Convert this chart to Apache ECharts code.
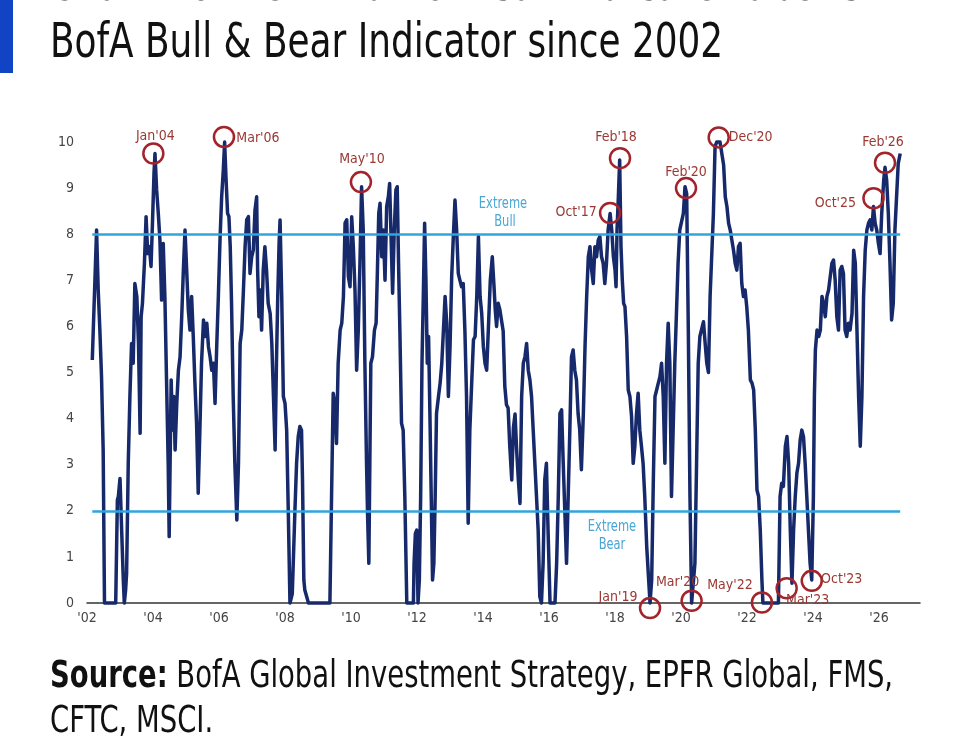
<!DOCTYPE html>
<html>
<head>
<meta charset="utf-8">
<script src="https://cdn.jsdelivr.net/npm/echarts@6/dist/echarts.min.js"></script>
<style>
  html, body { margin: 0; padding: 0; background: #fff; }
  #chart { width: 960px; height: 750px; }
</style>
</head>
<body>
<div id="chart"></div>
<script>
// BofA Bull & Bear Indicator (decimal years)
const weeks = [
  2002.16, 2002.24, 2002.29, 2002.34, 2002.39, 2002.44, 2002.49, 2002.53, 2002.87, 2002.92,
  2002.95, 2003.0, 2003.05, 2003.1, 2003.13, 2003.17, 2003.2, 2003.25, 2003.3, 2003.35,
  2003.4, 2003.45, 2003.51, 2003.56, 2003.61, 2003.64, 2003.68, 2003.74, 2003.79, 2003.84,
  2003.89, 2003.94, 2003.99, 2004.03, 2004.06, 2004.11, 2004.16, 2004.21, 2004.26, 2004.31,
  2004.36, 2004.41, 2004.46, 2004.49, 2004.55, 2004.59, 2004.63, 2004.67, 2004.72, 2004.77,
  2004.82, 2004.87, 2004.92, 2004.97, 2005.02, 2005.07, 2005.12, 2005.17, 2005.22, 2005.27,
  2005.32, 2005.37, 2005.42, 2005.47, 2005.53, 2005.58, 2005.63, 2005.68, 2005.73, 2005.78,
  2005.83, 2005.88, 2005.93, 2005.98, 2006.03, 2006.08, 2006.13, 2006.17, 2006.21, 2006.26,
  2006.3, 2006.34, 2006.38, 2006.43, 2006.48, 2006.54, 2006.59, 2006.64, 2006.69, 2006.74,
  2006.79, 2006.84, 2006.89, 2006.94, 2006.99, 2007.04, 2007.09, 2007.14, 2007.17, 2007.21,
  2007.25, 2007.29, 2007.34, 2007.39, 2007.44, 2007.49, 2007.55, 2007.6, 2007.65, 2007.7,
  2007.74, 2007.78, 2007.82, 2007.85, 2007.9, 2007.95, 2008.0, 2008.05, 2008.1, 2008.15,
  2008.22, 2008.3, 2008.35, 2008.4, 2008.45, 2008.5, 2008.53, 2008.57, 2008.6, 2008.66,
  2008.71, 2009.36, 2009.41, 2009.46, 2009.51, 2009.56, 2009.61, 2009.67, 2009.72, 2009.77,
  2009.82, 2009.87, 2009.92, 2009.97, 2010.02, 2010.07, 2010.12, 2010.17, 2010.22, 2010.27,
  2010.32, 2010.37, 2010.42, 2010.47, 2010.5, 2010.54, 2010.57, 2010.6, 2010.65, 2010.71,
  2010.76, 2010.8, 2010.84, 2010.88, 2010.93, 2010.98, 2011.03, 2011.08, 2011.13, 2011.17,
  2011.21, 2011.26, 2011.31, 2011.36, 2011.4, 2011.44, 2011.48, 2011.53, 2011.58, 2011.63,
  2011.69, 2011.89, 2011.91, 2011.95, 2011.99, 2012.03, 2012.07, 2012.11, 2012.15, 2012.19,
  2012.23, 2012.27, 2012.31, 2012.35, 2012.39, 2012.43, 2012.47, 2012.51, 2012.55, 2012.59,
  2012.65, 2012.7, 2012.75, 2012.8, 2012.85, 2012.9, 2012.95, 2013.0, 2013.05, 2013.1,
  2013.15, 2013.2, 2013.25, 2013.3, 2013.35, 2013.4, 2013.45, 2013.5, 2013.55, 2013.6,
  2013.66, 2013.71, 2013.76, 2013.81, 2013.86, 2013.91, 2013.96, 2014.01, 2014.06, 2014.11,
  2014.16, 2014.22, 2014.28, 2014.33, 2014.37, 2014.41, 2014.46, 2014.51, 2014.61, 2014.66,
  2014.71, 2014.76, 2014.81, 2014.87, 2014.92, 2014.97, 2015.02, 2015.07, 2015.12, 2015.17,
  2015.22, 2015.27, 2015.32, 2015.37, 2015.42, 2015.47, 2015.52, 2015.57, 2015.62, 2015.67,
  2015.72, 2015.77, 2015.82, 2015.87, 2015.92, 2015.97, 2016.03, 2016.18, 2016.23, 2016.28,
  2016.33, 2016.38, 2016.43, 2016.48, 2016.53, 2016.58, 2016.63, 2016.68, 2016.73, 2016.78,
  2016.83, 2016.88, 2016.93, 2016.98, 2017.04, 2017.09, 2017.14, 2017.19, 2017.24, 2017.29,
  2017.34, 2017.39, 2017.44, 2017.49, 2017.54, 2017.59, 2017.64, 2017.69, 2017.74, 2017.79,
  2017.85, 2017.9, 2017.95, 2018.0, 2018.03, 2018.06, 2018.1, 2018.14, 2018.18, 2018.22,
  2018.26, 2018.3, 2018.35, 2018.4, 2018.45, 2018.5, 2018.55, 2018.6, 2018.65, 2018.7,
  2018.75, 2018.8, 2018.85, 2018.9, 2018.96, 2019.01, 2019.06, 2019.11, 2019.16, 2019.21,
  2019.26, 2019.31, 2019.36, 2019.41, 2019.46, 2019.51, 2019.56, 2019.61, 2019.66, 2019.71,
  2019.76, 2019.81, 2019.86, 2019.91, 2019.96, 2020.01, 2020.07, 2020.12, 2020.17, 2020.22,
  2020.27, 2020.32, 2020.37, 2020.42, 2020.47, 2020.52, 2020.57, 2020.63, 2020.68, 2020.73,
  2020.78, 2020.83, 2020.88, 2020.98, 2021.03, 2021.08, 2021.18, 2021.24, 2021.29, 2021.34,
  2021.39, 2021.44, 2021.49, 2021.54, 2021.59, 2021.64, 2021.69, 2021.74, 2021.79, 2021.84,
  2021.89, 2021.94, 2021.99, 2022.04, 2022.1, 2022.15, 2022.2, 2022.25, 2022.3, 2022.35,
  2022.4, 2022.45, 2022.48, 2022.95, 2023.0, 2023.05, 2023.1, 2023.16, 2023.21, 2023.26,
  2023.31, 2023.36, 2023.41, 2023.46, 2023.51, 2023.56, 2023.61, 2023.66, 2023.71, 2023.76,
  2023.81, 2023.86, 2023.91, 2023.96, 2024.01, 2024.04, 2024.07, 2024.12, 2024.17, 2024.22,
  2024.27, 2024.32, 2024.37, 2024.42, 2024.47, 2024.52, 2024.57, 2024.62, 2024.67, 2024.72,
  2024.77, 2024.82, 2024.87, 2024.92, 2024.97, 2025.02, 2025.07, 2025.12, 2025.18, 2025.23,
  2025.28, 2025.33, 2025.38, 2025.43, 2025.48, 2025.53, 2025.58, 2025.63, 2025.68, 2025.73,
  2025.78, 2025.83, 2025.88, 2025.93, 2025.98, 2026.03, 2026.08, 2026.14, 2026.18, 2026.23,
  2026.28, 2026.33, 2026.38, 2026.43, 2026.48, 2026.53, 2026.58, 2026.64
];
const indicator = [
  5.27, 7.0, 8.09, 6.79, 5.92, 4.91, 3.32, 0, 0, 2.23,
  2.31, 2.7, 1.58, 0.5, 0, 0.28, 0.64, 3.03, 4.48, 5.63,
  5.2, 6.93, 6.65, 5.63, 3.68, 6.21, 6.5, 7.37, 8.38, 7.58,
  7.73, 7.3, 8.38, 9.32, 9.75, 8.96, 8.45, 7.87, 6.57, 7.8,
  6.65, 4.84, 3.03, 1.44, 4.84, 3.75, 4.48, 3.32, 4.33, 5.05,
  5.34, 6.21, 7.22, 8.09, 7.22, 6.36, 5.92, 6.65, 5.78, 4.77,
  3.9, 2.38, 3.75, 5.2, 6.14, 5.78, 6.07, 5.56, 5.34, 5.05,
  5.2, 4.33, 5.56, 6.65, 7.87, 8.81, 9.39, 10, 9.25, 8.45,
  8.38, 7.73, 6.5, 4.48, 3.03, 1.8, 3.03, 5.63, 5.92, 6.79,
  7.73, 8.31, 8.38, 7.15, 7.51, 7.66, 8.52, 8.81, 7.22, 6.21,
  6.79, 5.92, 7.22, 7.73, 7.22, 6.5, 6.28, 5.63, 4.48, 3.32,
  5.2, 6.65, 7.8, 8.31, 6.65, 4.48, 4.33, 3.75, 1.95, 0,
  0.2, 2.0, 3.03, 3.61, 3.83, 3.75, 2.67, 0.5, 0.28, 0.28,
  0, 0, 2.31, 4.55, 4.33, 3.46, 5.2, 5.92, 6.07, 6.65,
  8.24, 8.31, 7.08, 6.86, 8.38, 7.73, 6.79, 5.05, 5.92, 7.37,
  9.03, 8.09, 5.2, 3.03, 1.95, 0.86, 3.03, 5.2, 5.34, 5.92,
  6.07, 7.22, 8.45, 8.67, 7.51, 8.09, 7.0, 8.6, 8.81, 9.1,
  8.02, 6.72, 8.09, 8.96, 9.03, 7.37, 5.92, 3.9, 3.75, 2.31,
  0, 0, 0.86, 1.51, 1.58, 0, 0.5, 2.31, 5.2, 6.65,
  8.24, 7.0, 5.2, 5.78, 4.11, 2.31, 0.5, 0.86, 2.31, 4.11,
  4.48, 4.77, 5.2, 5.92, 6.65, 6.07, 4.48, 5.56, 7.08, 7.95,
  8.74, 8.09, 7.15, 7.0, 6.86, 6.93, 5.92, 4.48, 1.73, 3.75,
  4.84, 5.71, 5.78, 6.65, 7.95, 6.65, 6.28, 5.56, 5.2, 5.05,
  5.92, 7.0, 7.51, 6.9, 6.36, 6.0, 6.5, 6.36, 5.9, 4.7,
  4.3, 4.23, 3.4, 2.67, 3.8, 4.1, 3.3, 2.67, 2.16, 4.48,
  5.2, 5.34, 5.63, 5.05, 4.84, 4.48, 3.75, 3.03, 2.31, 1.58,
  0.14, 0, 0.86, 2.67, 3.03, 1.58, 0, 0, 0.86, 2.31,
  4.11, 4.19, 3.03, 1.95, 0.86, 2.31, 3.75, 5.34, 5.49, 5.05,
  4.84, 4.11, 3.75, 2.89, 4.11, 5.56, 6.65, 7.51, 7.73, 7.22,
  6.93, 7.73, 7.51, 7.87, 7.95, 7.51, 7.37, 6.93, 7.37, 8.09,
  8.45, 8.09, 7.51, 7.22, 6.86, 8.09, 8.81, 9.61, 7.73, 7.0,
  6.5, 6.43, 5.78, 4.62, 4.48, 4.05, 3.03, 3.4, 4.11, 4.55,
  3.75, 3.4, 3.03, 2.31, 1.22, 0.6, 0, 0.5, 2.67, 4.48,
  4.62, 4.77, 4.91, 5.2, 4.48, 3.03, 5.2, 6.07, 5.2, 2.31,
  3.75, 5.2, 6.28, 7.37, 8.09, 8.09, 8.45, 9.03, 8.88, 5.92,
  2.31, 0, 0, 0.86, 3.03, 5.2, 5.78, 5.8, 6.1, 5.63,
  5.2, 5.0, 6.65, 8.45, 9.9, 10, 10, 10, 9.5, 8.81,
  8.6, 8.24, 8.09, 7.87, 7.65, 7.37, 7.22, 7.73, 7.8, 6.93,
  6.65, 6.79, 6.43, 5.92, 4.84, 4.77, 4.62, 3.75, 2.45, 2.31,
  1.58, 0.5, 0, 0, 2.31, 2.6, 2.53, 3.4, 3.61, 3.03,
  1.58, 0.43, 1.58, 2.31, 2.82, 3.03, 3.54, 3.75, 3.61, 3.03,
  2.31, 1.58, 0.86, 0.5, 2.31, 4.48, 5.49, 5.92, 5.78, 5.92,
  6.65, 6.5, 6.21, 6.65, 6.79, 7.08, 7.37, 7.44, 7.0, 6.21,
  5.92, 7.22, 7.3, 7.15, 5.92, 5.78, 6.07, 5.92, 6.28, 7.65,
  7.37, 5.92, 4.48, 3.4, 4.48, 6.65, 7.65, 8.09, 8.24, 8.31,
  8.09, 8.6, 8.24, 8.09, 7.8, 7.58, 8.45, 9.17, 9.45, 9.17,
  8.45, 7.37, 6.14, 6.5, 8.09, 8.81, 9.53, 9.75
];

// circled turning points
const markNames = ["Jan'04", "Mar'06", "May'10", "Oct'17", "Feb'18", "Feb'20", "Dec'20",
  "Oct'25", "Feb'26", "Jan'19", "Mar'20", "May'22", "Mar'23", "Oct'23"];
const markYears = [2004.01, 2006.15, 2010.3, 2017.85, 2018.15, 2020.15, 2021.14,
  2025.83, 2026.18, 2019.06, 2020.32, 2022.45, 2023.2, 2023.96];
const markValues = [9.75, 10.11, 9.13, 8.46, 9.65, 9.0, 10.1,
  8.78, 9.55, -0.11, 0.05, 0.01, 0.32, 0.48];
// label offsets from circle centre (px)
const markOffsets = [[2, -17], [34, 1], [1, -23], [-34, -1], [-4, -21], [0, -16], [32, 0],
  [-38, 5], [-2, -20], [-32, -11], [-14, -18], [-32, -17], [21, 12], [30, -2]];

const bullLevel = 8;
const bearLevel = 2;

const narrow = "'Liberation Sans Narrow', 'DejaVu Sans Condensed', sans-serif";
const navy = '#16296b';
const cyan = '#2ea6dd';

let chart = echarts.init(document.getElementById('chart'));

let lineData = weeks.map((w, i) => [w, indicator[i]]);
let firstWeek = weeks[0];
let lastWeek = weeks[weeks.length - 1];

let markData = markNames.map((name, i) => ({
  name: name,
  value: [markYears[i], markValues[i]],
  label: { offset: markOffsets[i] }
}));

function squeezedText(x, y, text, size, extra) {
  return {
    type: 'text', x: x, y: y, scaleX: 0.83,
    style: Object.assign({ text: text, fontSize: size, fontFamily: narrow, fill: '#111', verticalAlign: 'middle' }, extra || {})
  };
}

var option = {
  backgroundColor: '#fff',
  animation: false,
  grid: { left: 87, right: 40, top: 142, bottom: 147 },
  xAxis: {
    type: 'value',
    min: 2002,
    max: 2027.24,
    interval: 2,
    splitLine: { show: false },
    axisTick: { show: false },
    axisLine: { lineStyle: { color: '#333', width: 1.5 } },
    axisLabel: {
      showMaxLabel: false,
      margin: 8,
      fontSize: 14,
      fontFamily: narrow,
      color: '#444',
      formatter: v => "'" + String(v).slice(2)
    }
  },
  yAxis: {
    type: 'value',
    min: 0,
    max: 10,
    interval: 1,
    splitLine: { show: false },
    axisLine: { show: false },
    axisTick: { show: false },
    axisLabel: { margin: 13, fontSize: 14, fontFamily: narrow, color: '#444' }
  },
  graphic: [
    { type: 'rect', shape: { x: 0, y: 0, width: 13, height: 73 }, style: { fill: '#1144c4' } },
    Object.assign(squeezedText(50, -12, 'Chart 20: BofA Bull & Bear Indicator above', 48, { fontWeight: 'bold' }), { scaleX: 0.78 }),
    squeezedText(50, 45, 'BofA Bull & Bear Indicator since 2002', 48),
    {
      type: 'text', x: 50, y: 677, scaleX: 0.825,
      style: {
        text: '{b|Source:}{r| BofA Global Investment Strategy, EPFR Global, FMS,}',
        verticalAlign: 'middle',
        rich: {
          b: { fontSize: 37, fontWeight: 'bold', fontFamily: narrow, fill: '#111' },
          r: { fontSize: 37, fontFamily: narrow, fill: '#111' }
        }
      }
    },
    Object.assign(squeezedText(50, 722, 'CFTC, MSCI.', 37), { scaleX: 0.825 }),
    {
      type: 'text', x: 503, y: 204, scaleX: 0.85,
      style: { text: 'Extreme', fontSize: 15, fontFamily: narrow, fill: '#4aa6d6', align: 'center', verticalAlign: 'middle' }
    },
    {
      type: 'text', x: 505, y: 222, scaleX: 0.85,
      style: { text: 'Bull', fontSize: 15, fontFamily: narrow, fill: '#4aa6d6', align: 'center', verticalAlign: 'middle' }
    },
    {
      type: 'text', x: 612, y: 527, scaleX: 0.85,
      style: { text: 'Extreme', fontSize: 15, fontFamily: narrow, fill: '#4aa6d6', align: 'center', verticalAlign: 'middle' }
    },
    {
      type: 'text', x: 612, y: 545, scaleX: 0.85,
      style: { text: 'Bear', fontSize: 15, fontFamily: narrow, fill: '#4aa6d6', align: 'center', verticalAlign: 'middle' }
    }
  ],
  series: [
    {
      id: 'bull-bear',
      type: 'line',
      data: lineData,
      showSymbol: false,
      clip: false,
      lineStyle: { color: navy, width: 3.5, join: 'round' },
      markLine: {
        silent: true,
        symbol: 'none',
        label: { show: false },
        lineStyle: { color: cyan, width: 2.5, type: 'solid' },
        data: [
          [{ coord: [firstWeek, bullLevel] }, { coord: [lastWeek, bullLevel] }],
          [{ coord: [firstWeek, bearLevel] }, { coord: [lastWeek, bearLevel] }]
        ]
      }
    },
    {
      id: 'turning-points',
      type: 'scatter',
      data: markData,
      clip: false,
      silent: true,
      z: 5,
      symbol: 'circle',
      symbolSize: 20,
      itemStyle: { color: 'rgba(0,0,0,0)', borderColor: '#a3232a', borderWidth: 2.5, opacity: 1 },
      label: {
        show: true,
        position: 'inside',
        formatter: p => p.name,
        fontSize: 14,
        fontFamily: narrow,
        color: '#9a3832'
      }
    }
  ]
};

chart.setOption(option);
</script>
</body>
</html>
